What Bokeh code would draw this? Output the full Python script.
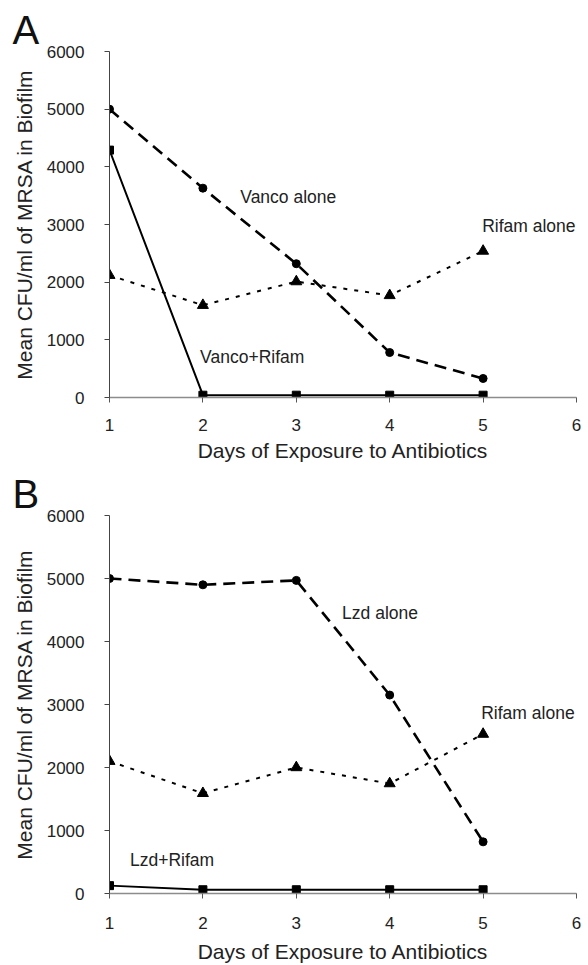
from bokeh.plotting import figure
from bokeh.models import Label, FixedTicker, Range1d
from bokeh.layouts import column
from bokeh.embed import file_html
from bokeh.resources import INLINE

days = [1, 2, 3, 4, 5]
x_ticks = [1, 2, 3, 4, 5, 6]
y_ticks = [0, 1000, 2000, 3000, 4000, 5000, 6000]

# Panel A
vanco_alone = [5000, 3630, 2320, 780, 330]
vanco_rifam = [4290, 40, 40, 40, 40]
rifam_alone_a = [2120, 1600, 2010, 1770, 2540]

# Panel B
lzd_alone = [5000, 4900, 4970, 3150, 820]
lzd_rifam = [125, 60, 60, 60, 60]
rifam_alone_b = [2100, 1590, 2000, 1745, 2530]

labels_a = [("Vanco alone", 2.40, 3480), ("Vanco+Rifam", 1.97, 700), ("Rifam alone", 4.99, 2970)]
labels_b = [("Lzd alone", 3.49, 4460), ("Rifam alone", 4.98, 2860), ("Lzd+Rifam", 1.22, 535)]

FONT = "Liberation Sans"


def make_panel(letter, dashed, solid, dotted, notes, height, top, bottom, tick_standoff, label_standoff):
    p = figure(width=588, height=height, output_backend="svg", toolbar_location=None,
               x_range=Range1d(1, 6), y_range=Range1d(0, 6000),
               min_border_left=109, min_border_right=12,
               min_border_top=top, min_border_bottom=bottom)
    p.outline_line_color = None
    p.xgrid.visible = False
    p.ygrid.visible = False
    p.background_fill_color = "white"

    p.title.text = letter
    p.title.text_font = FONT
    p.title.text_font_size = "40px"
    p.title.text_font_style = "normal"
    p.title.text_color = "#111111"
    p.title.align = "left"
    p.title.offset = -97
    p.title.standoff = 0

    p.xaxis.ticker = FixedTicker(ticks=x_ticks)
    p.yaxis.ticker = FixedTicker(ticks=y_ticks)
    for ax in (p.xaxis, p.yaxis):
        ax.major_label_text_font = FONT
        ax.major_label_text_font_size = "17px"
        ax.major_label_text_color = "#222222"
        ax.axis_label_text_font = FONT
        ax.axis_label_text_font_size = "21px"
        ax.axis_label_text_font_style = "normal"
        ax.axis_label_text_color = "#222222"
        ax.minor_tick_line_color = None
        ax.major_tick_in = 0
        ax.major_tick_out = 5
    p.xaxis.axis_label = "Days of Exposure to Antibiotics"
    p.yaxis.axis_label = "Mean CFU/ml of MRSA in Biofilm"
    p.xaxis.axis_line_color = "#8c8c8c"
    p.xaxis.major_tick_line_color = "#555555"
    p.xaxis.axis_line_width = 1.5
    p.yaxis.axis_line_color = "#444444"
    p.yaxis.major_tick_line_color = "#444444"
    p.xaxis.major_label_standoff = tick_standoff
    p.xaxis.axis_label_standoff = label_standoff
    p.yaxis.major_label_standoff = 20
    p.yaxis.axis_label_standoff = 8

    # dashed series with circles
    p.line(days, dashed, line_color="black", line_width=2.6, line_dash="12 7")
    p.scatter(days, dashed, marker="circle", size=8, color="black")
    # dotted series with triangles
    p.line(days, dotted, line_color="black", line_width=2, line_dash="4 7")
    p.scatter(days, dotted, marker="triangle", size=11, color="black")
    # solid series with squares
    p.line(days, solid, line_color="black", line_width=2)
    p.scatter(days, solid, marker="square", size=8, color="black")

    for txt, x, y in notes:
        p.add_layout(Label(x=x, y=y, text=txt, text_font=FONT, text_font_size="17.5px",
                           text_baseline="middle", text_align="left", text_color="#222222"))
    return p


pA = make_panel("A", vanco_alone, vanco_rifam, rifam_alone_a, labels_a,
                height=466, top=51, bottom=69, tick_standoff=16, label_standoff=5)
pB = make_panel("B", lzd_alone, lzd_rifam, rifam_alone_b, labels_b,
                height=499, top=49, bottom=70, tick_standoff=18, label_standoff=8)

layout = column(pA, pB)
open("out.html", "w").write(file_html(layout, INLINE))
